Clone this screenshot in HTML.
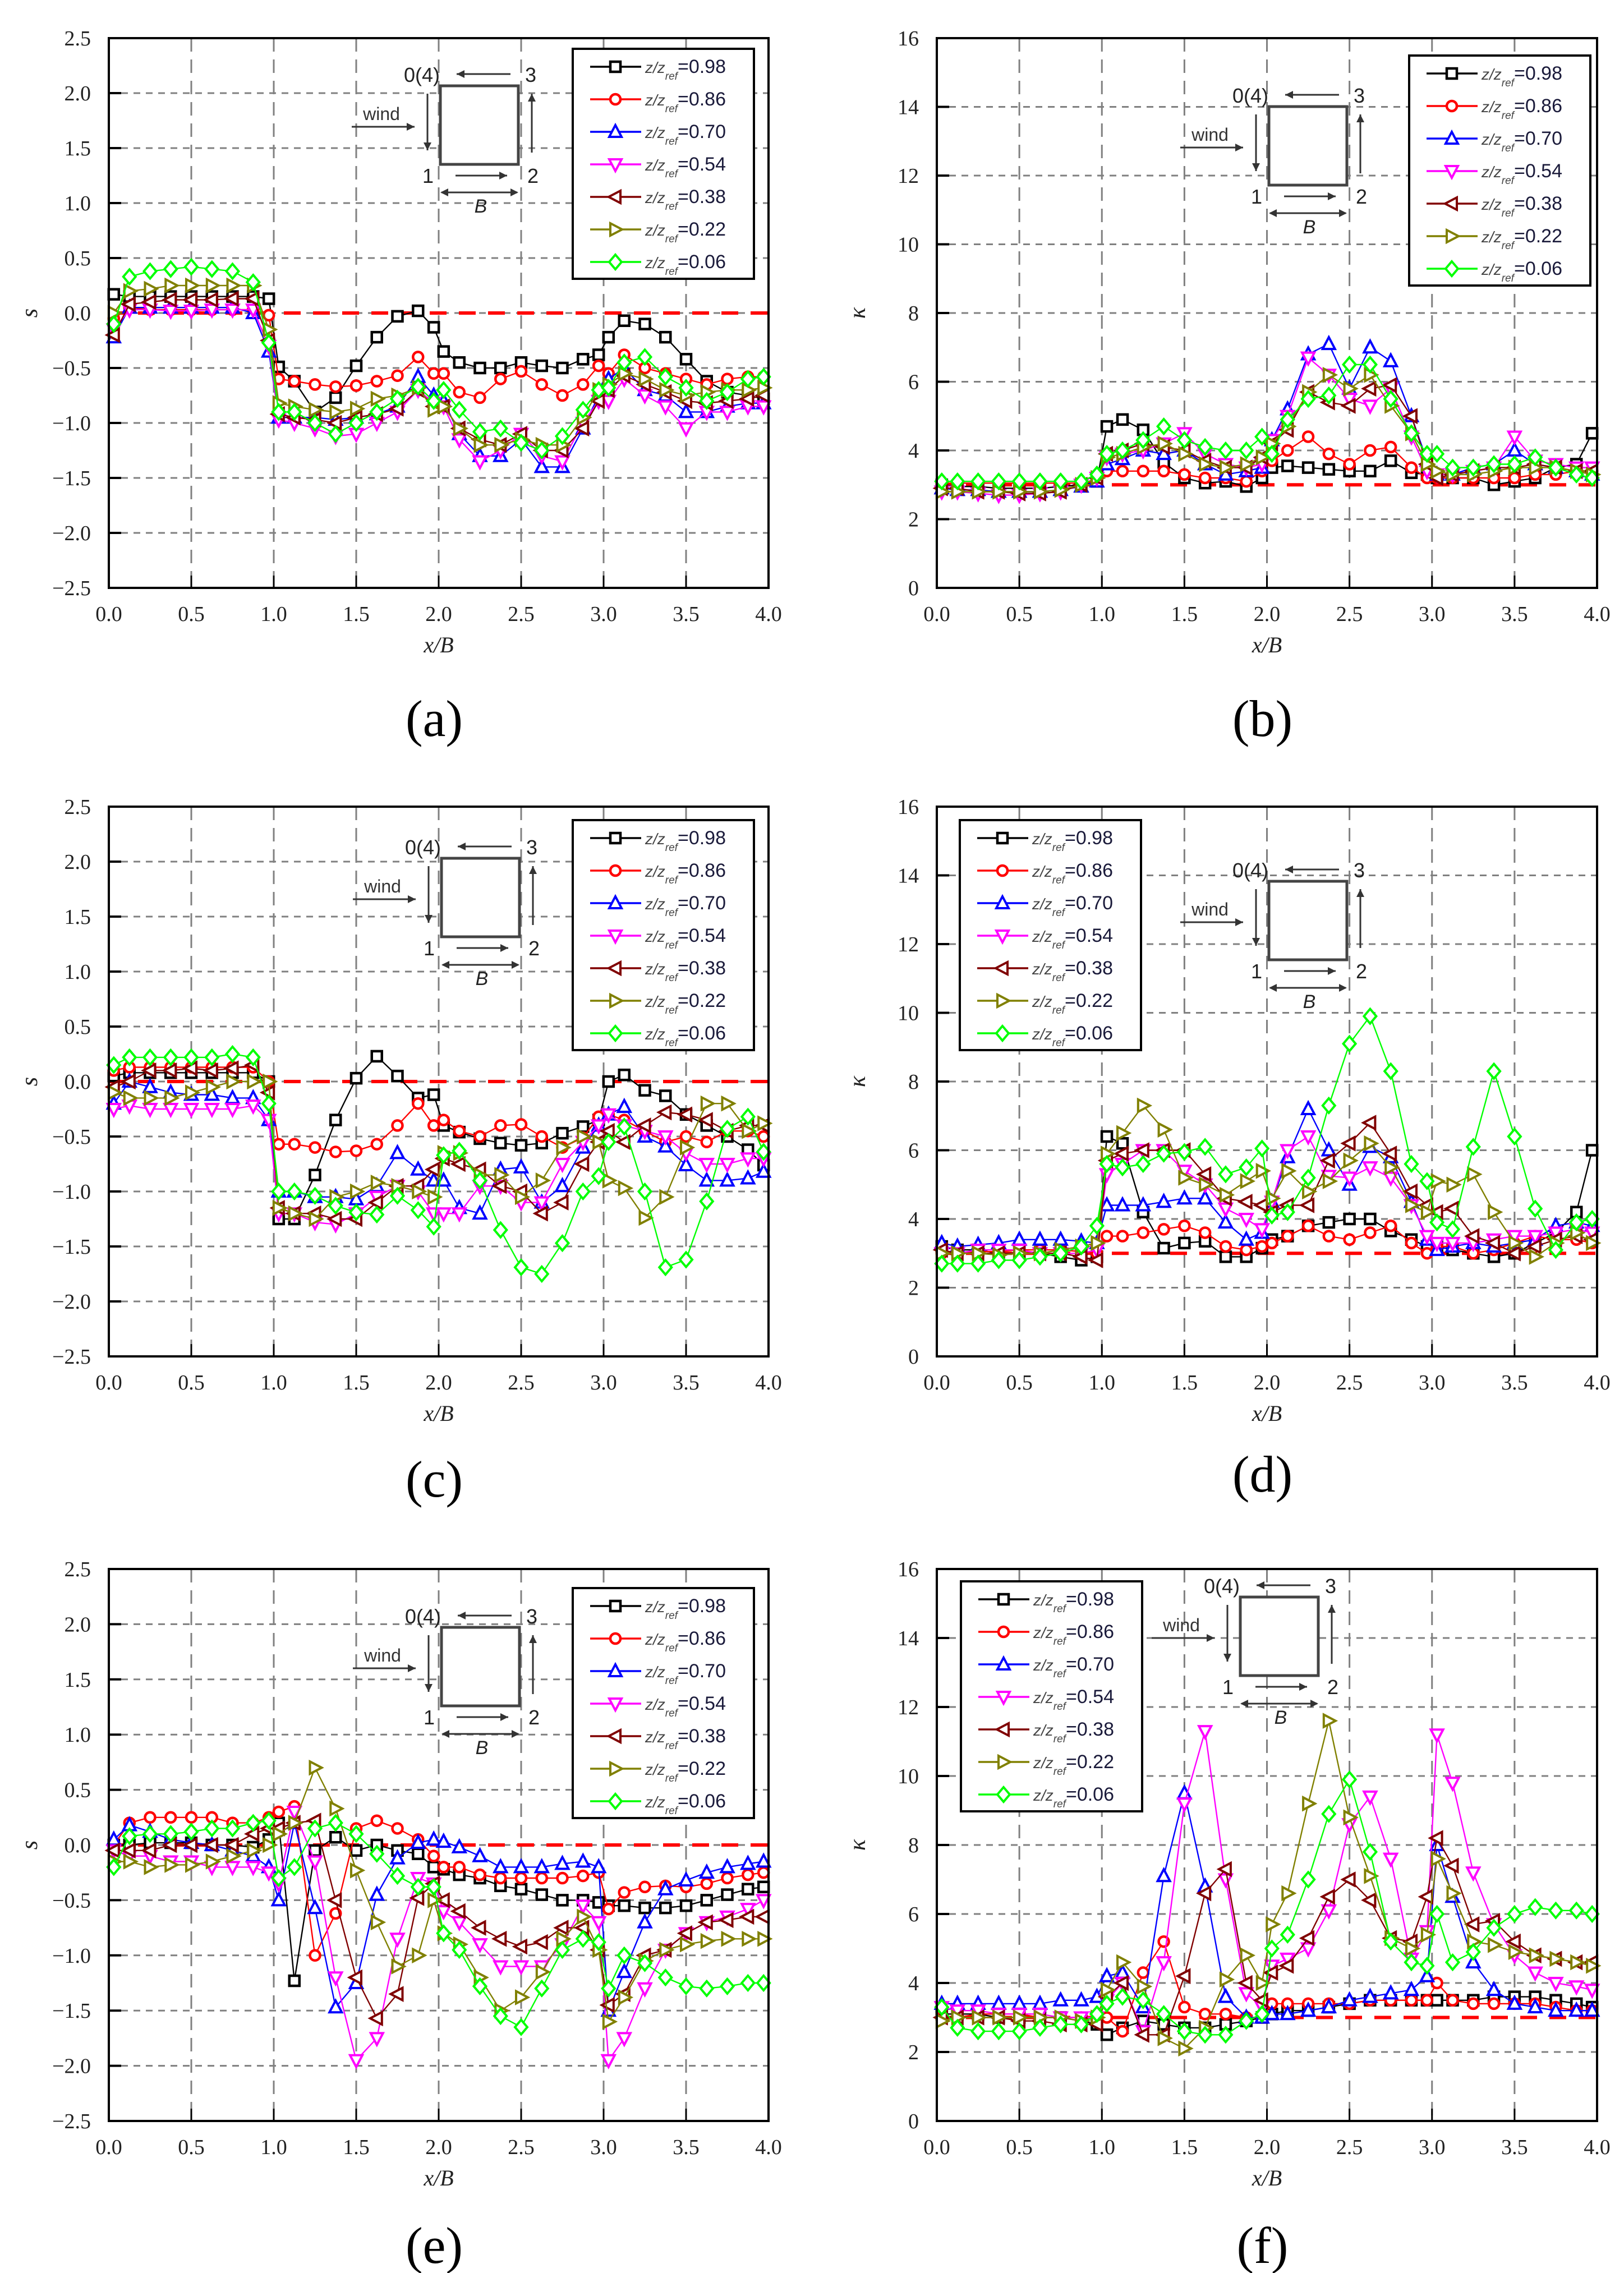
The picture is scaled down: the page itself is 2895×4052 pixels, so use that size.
<!DOCTYPE html>
<html><head><meta charset="utf-8"><title>s and kappa distributions</title>
<style>html,body{margin:0;padding:0;background:#fff}svg{display:block}</style></head>
<body>
<svg id="fig" xmlns="http://www.w3.org/2000/svg" width="2895" height="4052" viewBox="0 0 2895 4052">
<rect x="0" y="0" width="2895" height="4052" fill="#fff"/>
</svg>
<script>
// ---- shared x categories (x/B) ----
const xPos = [0.03,0.125,0.25,0.375,0.5,0.625,0.75,0.875,0.97, 1.03,1.125,1.25,1.375,1.5,1.625,1.75,1.875,1.97, 2.03,2.125,2.25,2.375,2.5,2.625,2.75,2.875,2.97, 3.03,3.125,3.25,3.375,3.5,3.625,3.75,3.875,3.97];
const seriesLabels = ["0.98","0.86","0.70","0.54","0.38","0.22","0.06"];
const sTicks = [2.5,2.0,1.5,1.0,0.5,0.0,-0.5,-1.0,-1.5,-2.0,-2.5];
const kTicks = [0,2,4,6,8,10,12,14,16];
const xTicks = [0.0,0.5,1.0,1.5,2.0,2.5,3.0,3.5,4.0];

// ---- panel (a) s ----
const a098 = [0.17,0.15,0.15,0.15,0.15,0.15,0.15,0.15,0.13, -0.49,-0.62,-0.9,-0.77,-0.48,-0.22,-0.03,0.02,-0.13, -0.35,-0.45,-0.5,-0.5,-0.45,-0.48,-0.5,-0.42,-0.38, -0.22,-0.07,-0.1,-0.22,-0.42,-0.62,-0.72,-0.75,-0.78];
const a086 = [-0.05,0.05,0.03,0.03,0.03,0.03,0.03,0.03,-0.02, -0.6,-0.62,-0.65,-0.67,-0.66,-0.62,-0.57,-0.4,-0.55, -0.55,-0.72,-0.77,-0.6,-0.53,-0.65,-0.75,-0.65,-0.48, -0.55,-0.38,-0.5,-0.55,-0.6,-0.65,-0.6,-0.58,-0.58];
const a070 = [-0.22,0.05,0.05,0.05,0.05,0.05,0.05,0.0,-0.35, -0.95,-0.95,-0.95,-0.97,-0.95,-0.92,-0.85,-0.58,-0.75, -0.8,-1.1,-1.3,-1.3,-1.15,-1.4,-1.4,-1.05,-0.75, -0.6,-0.5,-0.7,-0.75,-0.9,-0.9,-0.85,-0.82,-0.82];
const a054 = [-0.15,0.03,0.03,0.02,0.02,0.03,0.03,0.03,-0.3, -0.97,-1.0,-1.05,-1.12,-1.1,-1.0,-0.9,-0.7,-0.82, -0.85,-1.15,-1.35,-1.25,-1.1,-1.3,-1.35,-1.0,-0.8, -0.8,-0.6,-0.75,-0.85,-1.05,-0.9,-0.9,-0.85,-0.85];
const a038 = [-0.2,0.08,0.1,0.12,0.12,0.12,0.13,0.13,-0.25, -0.92,-0.95,-0.97,-1.0,-0.95,-0.92,-0.87,-0.7,-0.85, -0.85,-1.05,-1.15,-1.2,-1.1,-1.25,-1.25,-1.05,-0.8, -0.7,-0.57,-0.65,-0.72,-0.8,-0.82,-0.8,-0.78,-0.75];
const a022 = [0.0,0.2,0.22,0.25,0.25,0.25,0.25,0.25,-0.15, -0.82,-0.85,-0.88,-0.9,-0.87,-0.78,-0.75,-0.68,-0.88, -0.85,-1.05,-1.2,-1.2,-1.15,-1.2,-1.2,-0.95,-0.7, -0.65,-0.55,-0.6,-0.7,-0.75,-0.72,-0.7,-0.7,-0.68];
const a006 = [-0.1,0.33,0.38,0.4,0.42,0.4,0.38,0.28,-0.27, -0.9,-0.9,-1.0,-1.1,-1.0,-0.9,-0.78,-0.67,-0.8, -0.7,-0.88,-1.08,-1.05,-1.18,-1.25,-1.12,-0.88,-0.7, -0.68,-0.45,-0.4,-0.58,-0.68,-0.8,-0.72,-0.6,-0.58];
// ---- panel (b) kappa ----
const b098 = [3.0,2.95,2.95,2.9,2.9,2.9,2.95,3.0,3.1, 4.7,4.9,4.6,3.65,3.2,3.05,3.1,2.95,3.2, 3.5,3.55,3.5,3.45,3.4,3.4,3.7,3.35,3.3, 3.2,3.2,3.2,3.0,3.1,3.2,3.5,3.6,4.5];
const b086 = [3.05,3.05,3.05,3.05,3.05,3.05,3.05,3.05,3.1, 3.4,3.4,3.4,3.4,3.3,3.2,3.2,3.1,3.4, 3.7,4.0,4.4,3.9,3.6,4.0,4.1,3.5,3.2, 3.2,3.2,3.2,3.2,3.2,3.3,3.3,3.4,3.4];
const b070 = [2.9,2.85,2.85,2.8,2.8,2.8,2.85,2.95,3.1, 3.6,3.75,4.0,3.9,4.0,3.6,3.3,3.4,3.5, 4.3,5.2,6.8,7.1,5.8,7.0,6.6,5.0,3.7, 3.3,3.3,3.5,3.6,4.0,3.6,3.5,3.4,3.3];
const b054 = [2.8,2.8,2.75,2.7,2.7,2.75,2.8,3.0,3.2, 3.8,3.9,4.0,4.2,4.5,3.9,3.6,3.5,3.6, 4.3,5.0,6.7,6.2,5.5,5.3,5.8,4.4,3.4, 3.3,3.3,3.4,3.5,4.4,3.7,3.6,3.5,3.5];
const b038 = [2.9,2.9,2.8,2.8,2.75,2.75,2.8,3.0,3.2, 3.9,4.0,4.2,4.1,4.0,3.7,3.5,3.5,3.8, 4.2,4.6,5.7,5.4,5.3,5.8,5.9,5.0,3.6, 3.2,3.3,3.4,3.5,3.5,3.6,3.5,3.4,3.4];
const b022 = [2.8,2.8,2.8,2.8,2.8,2.8,2.85,3.0,3.2, 3.8,3.9,4.1,4.2,3.9,3.6,3.5,3.6,3.8, 4.2,4.7,5.7,6.2,5.8,6.2,5.3,4.5,3.6, 3.4,3.3,3.3,3.4,3.5,3.5,3.5,3.4,3.3];
const b006 = [3.1,3.1,3.1,3.1,3.1,3.1,3.1,3.1,3.3, 3.9,4.0,4.3,4.7,4.3,4.1,4.0,4.0,4.4, 3.9,4.9,5.5,5.6,6.5,6.5,5.5,4.5,3.9, 3.9,3.5,3.5,3.6,3.6,3.8,3.5,3.3,3.2];
// ---- panel (c) s ----
const c098 = [0.05,0.08,0.08,0.08,0.08,0.08,0.08,0.08,0.0, -1.25,-1.25,-0.85,-0.35,0.03,0.23,0.05,-0.15,-0.12, -0.4,-0.46,-0.52,-0.56,-0.58,-0.56,-0.47,-0.41,-0.35, 0.0,0.06,-0.08,-0.13,-0.3,-0.4,-0.5,-0.62,-0.76];
const c086 = [0.1,0.13,0.13,0.13,0.13,0.13,0.13,0.13,0.0, -0.57,-0.57,-0.6,-0.64,-0.63,-0.57,-0.4,-0.2,-0.4, -0.35,-0.45,-0.5,-0.4,-0.39,-0.5,-0.6,-0.51,-0.32, -0.3,-0.35,-0.45,-0.55,-0.5,-0.55,-0.45,-0.45,-0.5];
const c070 = [-0.2,0.0,-0.05,-0.1,-0.12,-0.12,-0.15,-0.15,-0.35, -1.0,-1.0,-1.05,-1.05,-1.07,-0.95,-0.65,-0.8,-0.9, -0.9,-1.15,-1.2,-0.8,-0.78,-1.1,-0.95,-0.6,-0.4, -0.3,-0.23,-0.5,-0.59,-0.76,-0.9,-0.9,-0.88,-0.82];
const c054 = [-0.25,-0.22,-0.25,-0.25,-0.25,-0.25,-0.25,-0.22,-0.35, -1.2,-1.2,-1.28,-1.3,-1.2,-1.05,-0.95,-1.0,-1.2, -1.2,-1.2,-0.95,-0.95,-1.1,-1.1,-0.75,-0.55,-0.4, -0.3,-0.4,-0.45,-0.5,-0.65,-0.75,-0.75,-0.7,-0.7];
const c038 = [-0.05,0.0,0.1,0.1,0.12,0.1,0.12,0.15,-0.1, -1.15,-1.2,-1.2,-1.25,-1.25,-1.1,-0.95,-0.95,-0.8, -0.7,-0.75,-0.8,-0.95,-1.0,-1.2,-1.1,-0.75,-0.55, -0.45,-0.55,-0.4,-0.28,-0.3,-0.35,-0.45,-0.4,-0.4];
const c022 = [-0.1,-0.15,-0.15,-0.15,-0.1,-0.05,0.0,0.0,0.0, -1.15,-1.2,-1.25,-1.05,-1.0,-0.92,-0.95,-1.0,-1.05, -0.65,-0.65,-0.85,-0.85,-1.05,-0.9,-0.6,-0.5,-0.55, -0.9,-0.97,-1.24,-1.05,-0.6,-0.2,-0.2,-0.45,-0.38];
const c006 = [0.15,0.22,0.22,0.22,0.22,0.22,0.25,0.22,-0.2, -1.0,-1.0,-1.04,-1.13,-1.19,-1.21,-1.04,-1.17,-1.32, -0.67,-0.63,-0.9,-1.35,-1.69,-1.75,-1.47,-1.0,-0.86, -0.55,-0.41,-1.0,-1.69,-1.62,-1.09,-0.43,-0.32,-0.64];
// ---- panel (d) kappa ----
const d098 = [3.2,3.1,3.1,3.0,3.0,3.0,2.9,2.8,2.9, 6.4,6.2,4.2,3.15,3.3,3.35,2.9,2.9,3.15, 3.4,3.5,3.8,3.9,4.0,4.0,3.65,3.4,3.2, 3.2,3.1,3.0,2.9,3.0,3.3,3.6,4.2,6.0];
const d086 = [3.0,3.0,3.05,3.05,3.1,3.1,3.1,3.05,3.0, 3.5,3.5,3.6,3.7,3.8,3.6,3.2,3.1,3.2, 3.3,3.5,3.8,3.5,3.4,3.6,3.8,3.3,3.0, 3.2,3.2,3.0,3.1,3.3,3.5,3.4,3.4,3.3];
const d070 = [3.3,3.2,3.25,3.3,3.4,3.4,3.4,3.35,3.3, 4.4,4.4,4.4,4.5,4.6,4.6,3.9,3.4,3.6, 4.5,5.8,7.2,6.0,5.0,6.1,5.8,4.5,3.4, 3.1,3.2,3.3,3.2,3.3,3.4,3.8,3.9,3.8];
const d054 = [3.0,3.0,3.1,3.1,3.1,3.0,3.0,3.0,3.1, 5.3,5.6,6.0,6.0,5.4,5.0,4.3,4.0,3.7, 4.5,6.0,6.4,5.25,5.2,5.5,5.2,4.4,3.5, 3.3,3.3,3.3,3.4,3.5,3.5,3.6,3.7,3.6];
const d038 = [3.1,3.0,3.0,3.0,3.0,3.0,3.0,2.9,2.8, 5.7,5.9,6.0,6.0,6.0,5.3,4.6,4.5,4.4, 4.2,4.4,4.4,5.7,6.2,6.8,5.9,4.8,4.4, 4.2,4.3,3.5,3.3,3.0,3.2,3.4,3.5,3.4];
const d022 = [3.0,3.0,3.0,2.95,3.0,3.0,3.1,3.2,3.3, 5.9,6.5,7.3,6.6,5.2,5.0,4.7,5.1,5.4, 4.6,5.4,4.8,5.1,5.7,6.2,5.5,4.4,4.2, 5.1,5.0,5.3,4.2,3.3,2.9,3.3,3.6,3.3];
const d006 = [2.7,2.7,2.7,2.8,2.8,2.9,3.0,3.2,3.8, 5.6,5.5,5.6,5.9,5.95,6.1,5.3,5.5,6.05, 4.1,4.2,5.2,7.3,9.1,9.9,8.3,5.6,5.1, 3.9,3.7,6.1,8.3,6.4,4.3,3.1,3.9,4.0];
// ---- panel (e) s ----
const e098 = [0.0,0.0,0.02,0.02,0.02,0.0,0.0,-0.02,0.05, 0.2,-1.23,-0.05,0.07,-0.05,0.0,-0.05,-0.08,-0.2, -0.22,-0.27,-0.3,-0.37,-0.4,-0.45,-0.5,-0.5,-0.52, -0.55,-0.55,-0.57,-0.57,-0.55,-0.5,-0.45,-0.4,-0.38];
const e086 = [0.0,0.2,0.25,0.25,0.25,0.25,0.2,0.2,0.25, 0.3,0.35,-1.0,-0.62,0.15,0.22,0.15,0.05,-0.1, -0.2,-0.2,-0.27,-0.3,-0.3,-0.3,-0.3,-0.28,-0.25, -0.58,-0.43,-0.38,-0.37,-0.38,-0.35,-0.3,-0.27,-0.25];
const e070 = [0.05,0.18,0.12,0.05,0.02,0.0,-0.05,-0.1,-0.2, -0.5,0.2,-0.57,-1.47,-1.25,-0.45,-0.12,0.02,0.05, 0.03,-0.02,-0.1,-0.2,-0.2,-0.2,-0.17,-0.15,-0.2, -1.5,-1.15,-0.7,-0.4,-0.32,-0.25,-0.2,-0.17,-0.15];
const e054 = [-0.05,-0.1,-0.1,-0.15,-0.15,-0.2,-0.2,-0.2,-0.25, -0.35,0.3,-0.15,-1.2,-1.95,-1.75,-0.85,-0.3,-0.35, -0.6,-0.7,-0.9,-1.1,-1.1,-1.1,-0.9,-0.55,-0.7, -1.95,-1.75,-1.3,-0.95,-0.8,-0.7,-0.65,-0.58,-0.5];
const e038 = [-0.05,-0.05,-0.05,0.0,0.0,0.0,0.0,0.1,0.15, 0.15,0.2,0.22,-0.5,-1.2,-1.57,-1.35,-0.48,-0.35, -0.5,-0.6,-0.75,-0.85,-0.92,-0.88,-0.75,-0.75,-0.95, -1.45,-1.35,-1.0,-0.95,-0.8,-0.7,-0.68,-0.65,-0.65];
const e022 = [-0.15,-0.15,-0.2,-0.18,-0.18,-0.15,-0.1,-0.05,0.0, 0.1,0.2,0.7,0.33,-0.23,-0.7,-1.1,-1.0,-0.5, -0.8,-0.9,-1.2,-1.5,-1.38,-1.15,-0.85,-0.65,-0.95, -1.6,-1.38,-1.05,-0.95,-0.9,-0.87,-0.85,-0.85,-0.85];
const e006 = [-0.2,0.08,0.1,0.1,0.12,0.15,0.15,0.2,0.22, -0.3,-0.2,0.15,0.2,0.1,-0.08,-0.28,-0.38,-0.38, -0.8,-0.95,-1.28,-1.55,-1.65,-1.3,-0.95,-0.85,-0.88, -1.3,-1.0,-1.07,-1.2,-1.28,-1.3,-1.28,-1.25,-1.25];
// ---- panel (f) kappa ----
const f098 = [3.1,3.1,3.1,3.0,3.0,3.0,3.0,2.9,2.8, 2.5,2.7,2.9,2.8,2.7,2.7,2.8,2.9,3.0, 3.1,3.2,3.2,3.3,3.4,3.5,3.5,3.5,3.5, 3.5,3.5,3.5,3.6,3.6,3.6,3.5,3.4,3.3];
const f086 = [3.0,3.0,3.1,3.1,3.1,3.0,3.0,3.0,3.0, 3.0,2.6,4.3,5.2,3.3,3.1,3.1,3.0,3.0, 3.4,3.4,3.4,3.4,3.4,3.5,3.5,3.5,3.5, 4.0,3.5,3.4,3.4,3.4,3.4,3.3,3.2,3.2];
const f070 = [3.4,3.4,3.4,3.4,3.4,3.4,3.5,3.5,3.6, 4.2,4.3,3.3,7.1,9.5,6.8,3.6,3.0,3.0, 3.1,3.1,3.2,3.3,3.5,3.6,3.7,3.8,4.2, 8.0,6.5,4.6,3.8,3.4,3.3,3.2,3.2,3.2];
const f054 = [3.3,3.2,3.2,3.1,3.1,3.1,3.0,3.0,3.0, 3.5,4.0,2.6,4.6,9.2,11.3,7.0,3.7,3.3, 4.5,4.7,5.0,6.1,8.6,9.4,7.6,4.7,5.5, 11.2,9.8,7.2,5.7,4.8,4.3,4.0,3.9,3.8];
const f038 = [3.0,3.0,3.0,3.0,2.9,2.9,2.8,2.8,2.8, 3.6,4.0,2.5,2.5,4.2,6.6,7.3,4.0,3.5, 4.3,4.5,5.3,6.5,7.0,6.4,5.3,5.2,6.5, 8.2,7.4,5.7,5.8,5.2,4.8,4.7,4.6,4.6];
const f022 = [2.9,3.0,3.0,3.0,3.0,3.0,3.0,2.9,3.0, 3.8,4.6,3.9,2.4,2.1,2.7,4.1,4.8,4.0, 5.7,6.6,9.2,11.6,8.8,7.1,5.3,5.0,5.4, 7.6,6.6,5.2,5.1,4.9,4.8,4.7,4.6,4.5];
const f006 = [3.3,2.7,2.6,2.6,2.6,2.7,2.8,2.8,3.1, 3.4,3.6,3.5,3.1,2.6,2.5,2.5,2.9,3.1, 5.0,5.4,7.0,8.9,9.9,7.8,5.2,4.6,4.5, 6.0,4.6,4.9,5.6,6.0,6.2,6.1,6.1,6.0];

const NS = "http://www.w3.org/2000/svg";
const svg = document.getElementById('fig');
const COLORS = ["#000000","#ff0000","#0000ff","#ff00ff","#800000","#808000","#00ff00"];
const SHAPES = ["square","circle","up","down","left","right","diamond"];

function mk(tag, attrs, parent) {
  const el = document.createElementNS(NS, tag);
  for (const k in attrs) el.setAttribute(k, attrs[k]);
  (parent || svg).appendChild(el);
  return el;
}

function markerPts(shape, cx, cy) {
  const r = 11;
  if (shape === "up") return [[cx,cy-r-1],[cx-r,cy+r-2],[cx+r,cy+r-2]];
  if (shape === "down") return [[cx,cy+r+1],[cx-r,cy-r+2],[cx+r,cy-r+2]];
  if (shape === "left") return [[cx-r-1,cy],[cx+r-2,cy-r],[cx+r-2,cy+r]];
  if (shape === "right") return [[cx+r+1,cy],[cx-r+2,cy-r],[cx-r+2,cy+r]];
  if (shape === "diamond") return [[cx,cy-r-2],[cx+r,cy],[cx,cy+r+2],[cx-r,cy]];
  return null;
}

function drawMarker(g, shape, cx, cy, color) {
  let el;
  if (shape === "square") {
    el = mk('rect', {x: cx-9, y: cy-9, width: 18, height: 18, fill: '#fff', stroke: color, 'stroke-width': 4.5}, g);
  } else if (shape === "circle") {
    el = mk('circle', {cx: cx, cy: cy, r: 9, fill: '#fff', stroke: color, 'stroke-width': 4.5}, g);
  } else {
    const p = markerPts(shape, cx, cy).map(q => q[0].toFixed(1)+','+q[1].toFixed(1)).join(' ');
    el = mk('polygon', {points: p, fill: '#fff', stroke: color, 'stroke-width': 4, 'stroke-linejoin': 'miter'}, g);
  }
  
  
}

function drawInset(g, sx, sy) {
  const c = '#333';
  const sq = mk('rect', {x: sx, y: sy, width: 139, height: 140, fill: '#fff', stroke: '#444', 'stroke-width': 5}, g);
  
  
  const arrows = [
    [sx+125, sy-21, sx+29, sy-21],
    [sx-23, sy+14, sx-23, sy+115],
    [sx+163, sy+119, sx+163, sy+14],
    [sx+27, sy+160, sx+119, sy+160],
    [sx-158, sy+73, sx-46, sy+73]
  ];
  arrows.forEach(a => {
    const ln = mk('line', {x1: a[0], y1: a[1], x2: a[2], y2: a[3], stroke: c, 'stroke-width': 3}, g);
    
    
    const ang = Math.atan2(a[3]-a[1], a[2]-a[0]);
    const L = 14, W = 7;
    const bx = a[2]-L*Math.cos(ang), by = a[3]-L*Math.sin(ang);
    const hd = mk('polygon', {points: `${a[2]},${a[3]} ${bx-W*Math.sin(ang)},${by+W*Math.cos(ang)} ${bx+W*Math.sin(ang)},${by-W*Math.cos(ang)}`, fill: c}, g);
    
    
  });
  const bl = mk('line', {x1: sx+2, y1: sy+190, x2: sx+137, y2: sy+190, stroke: c, 'stroke-width': 3}, g);
  
  
  const h1 = mk('polygon', {points: `${sx},${sy+190} ${sx+14},${sy+183} ${sx+14},${sy+197}`, fill: c}, g);
  
  
  const h2 = mk('polygon', {points: `${sx+139},${sy+190} ${sx+125},${sy+183} ${sx+125},${sy+197}`, fill: c}, g);
  
  
  const labels = [
    ['0(4)', sx-33, sy-20, 'corner-label-0'],
    ['3', sx+161, sy-20, 'corner-label-3'],
    ['1', sx-22, sy+160, 'corner-label-1'],
    ['2', sx+165, sy+160, 'corner-label-2']
  ];
  labels.forEach(l => {
    const t = mk('text', {x: l[1], y: l[2]+13, 'text-anchor': 'middle', 'font-family': 'Liberation Sans, sans-serif', 'font-size': 36, fill: '#222'}, g);
    t.textContent = l[0];
    
    
  });
  const w = mk('text', {x: sx-105, y: sy+61, 'text-anchor': 'middle', 'font-family': 'Liberation Sans, sans-serif', 'font-size': 32, fill: '#333'}, g);
  w.textContent = 'wind';
  
  
  const b = mk('text', {x: sx+72, y: sy+226, 'text-anchor': 'middle', 'font-family': 'Liberation Sans, sans-serif', 'font-style': 'italic', 'font-size': 34, fill: '#222'}, g);
  b.textContent = 'B';
  
  
}

function drawLegend(g, lx, ly) {
  const box = mk('rect', {x: lx, y: ly, width: 323, height: 410, fill: '#fff', stroke: '#000', 'stroke-width': 4}, g);
  
  
  for (let i = 0; i < 7; i++) {
    const cy = ly + 32 + 58*i;
    const ln = mk('line', {x1: lx+31, y1: cy, x2: lx+122, y2: cy, stroke: COLORS[i], 'stroke-width': 3.5}, g);
    
    
    drawMarker(g, SHAPES[i], lx+76, cy, COLORS[i]);
    const t = mk('text', {x: lx+129, y: cy+11, 'font-family': 'Liberation Sans, sans-serif', 'font-size': 28, fill: '#444'}, g);
    
    
    const t1 = mk('tspan', {'font-style': 'italic'}, t);
    t1.textContent = 'z/z';
    const t2 = mk('tspan', {'font-size': 19, dy: 12, 'font-style': 'italic'}, t);
    t2.textContent = 'ref';
    const t3 = mk('tspan', {'font-size': 34, dy: -12, fill: '#1a1a3a'}, t);
    t3.textContent = '=' + seriesLabels[i];
  }
}

function panel(cfg) {
  const g = mk('g', {});
  
  
  const X0 = cfg.x0, X1 = cfg.x1, Y0 = cfg.y0, Y1 = cfg.y1;
  const xs = v => X0 + (v - 0) / 4 * (X1 - X0);
  const ys = v => Y1 - (v - cfg.ymin) / (cfg.ymax - cfg.ymin) * (Y1 - Y0);
  xTicks.forEach(v => {
    if (v > 0 && v < 4) {
      const l = mk('line', {x1: xs(v), y1: Y0, x2: xs(v), y2: Y1, stroke: '#808080', 'stroke-width': 3, 'stroke-dasharray': '24 14'}, g);
      
      
    }
  });
  cfg.yticks.forEach(v => {
    if (v > cfg.ymin && v < cfg.ymax) {
      const l = mk('line', {x1: X0, y1: ys(v), x2: X1, y2: ys(v), stroke: '#808080', 'stroke-width': 3, 'stroke-dasharray': '12 10'}, g);
      
      
      const tk = mk('line', {x1: X0, y1: ys(v), x2: X0+22, y2: ys(v), stroke: '#000', 'stroke-width': 4}, g);
      
      
    }
  });
  xTicks.forEach(v => {
    if (v > 0 && v < 4) {
      const tk = mk('line', {x1: xs(v), y1: Y1, x2: xs(v), y2: Y1-22, stroke: '#000', 'stroke-width': 3}, g);
      
      
    }
  });
  const ref = mk('line', {x1: X0, y1: ys(cfg.ref), x2: X1, y2: ys(cfg.ref), stroke: '#ff0000', 'stroke-width': 6, 'stroke-dasharray': '30 22'}, g);
  
  
  drawInset(g, cfg.inset[0], cfg.inset[1]);
  cfg.series.forEach((arr, si) => {
    const d = arr.map((v, i) => (i ? 'L' : 'M') + xs(xPos[i]).toFixed(1) + ',' + ys(v).toFixed(1)).join(' ');
    const p = mk('path', {d: d, fill: 'none', stroke: COLORS[si], 'stroke-width': 2.4}, g);
    
    
    arr.forEach((v, i) => drawMarker(g, SHAPES[si], xs(xPos[i]), ys(v), COLORS[si]));
  });
  drawLegend(g, cfg.legend[0], cfg.legend[1]);
  const fr = mk('rect', {x: X0, y: Y0, width: X1-X0, height: Y1-Y0, fill: 'none', stroke: '#000', 'stroke-width': 4}, g);
  
  
  cfg.yticks.forEach(v => {
    const t = mk('text', {x: X0-32, y: ys(v)+13, 'text-anchor': 'end', 'font-family': 'Liberation Serif, serif', 'font-size': 38, fill: '#222'}, g);
    t.textContent = cfg.kappa ? String(v) : (v < 0 ? '\u2212' + Math.abs(v).toFixed(1) : v.toFixed(1));
    
    
  });
  xTicks.forEach(v => {
    const t = mk('text', {x: xs(v), y: Y1+59, 'text-anchor': 'middle', 'font-family': 'Liberation Serif, serif', 'font-size': 38, fill: '#222'}, g);
    t.textContent = v.toFixed(1);
    
    
  });
  const xt = mk('text', {x: (X0+X1)/2, y: Y1+115, 'text-anchor': 'middle', 'font-family': 'Liberation Serif, serif', 'font-style': 'italic', 'font-size': 40, fill: '#222'}, g);
  xt.textContent = 'x/B';
  
  
  const yx = X0 - 128, yy = (Y0+Y1)/2;
  const yt = mk('text', {x: yx, y: yy, 'text-anchor': 'middle', 'font-family': 'Liberation Serif, serif', 'font-style': 'italic', 'font-size': 42, fill: '#222', transform: `rotate(-90 ${yx} ${yy})`}, g);
  yt.textContent = cfg.kappa ? '\u03ba' : 's';
  
  
  const pl = mk('text', {x: (X0+X1)/2 - 8, y: cfg.labelY + 32, 'text-anchor': 'middle', 'font-family': 'Liberation Serif, serif', 'font-size': 92, fill: '#000'}, g);
  pl.textContent = cfg.label;
  
  
}

const L = [194, 1370], R = [1670, 2847];
const rows = [[68, 1048], [1438, 2418], [2797, 3781]];
panel({name: 'panel-a', x0: L[0], x1: L[1], y0: rows[0][0], y1: rows[0][1], ymin: -2.5, ymax: 2.5, yticks: sTicks, ref: 0, kappa: false,
  series: [a098,a086,a070,a054,a038,a022,a006], legend: [1021, 87], inset: [785, 153], label: '(a)', labelY: 1280});
panel({name: 'panel-b', x0: R[0], x1: R[1], y0: rows[0][0], y1: rows[0][1], ymin: 0, ymax: 16, yticks: kTicks, ref: 3, kappa: true,
  series: [b098,b086,b070,b054,b038,b022,b006], legend: [2512, 99], inset: [2262, 190], label: '(b)', labelY: 1280});
panel({name: 'panel-c', x0: L[0], x1: L[1], y0: rows[1][0], y1: rows[1][1], ymin: -2.5, ymax: 2.5, yticks: sTicks, ref: 0, kappa: false,
  series: [c098,c086,c070,c054,c038,c022,c006], legend: [1021, 1462], inset: [787, 1530], label: '(c)', labelY: 2636});
panel({name: 'panel-d', x0: R[0], x1: R[1], y0: rows[1][0], y1: rows[1][1], ymin: 0, ymax: 16, yticks: kTicks, ref: 3, kappa: true,
  series: [d098,d086,d070,d054,d038,d022,d006], legend: [1711, 1462], inset: [2262, 1571], label: '(d)', labelY: 2627});
panel({name: 'panel-e', x0: L[0], x1: L[1], y0: rows[2][0], y1: rows[2][1], ymin: -2.5, ymax: 2.5, yticks: sTicks, ref: 0, kappa: false,
  series: [e098,e086,e070,e054,e038,e022,e006], legend: [1021, 2831], inset: [787, 2901], label: '(e)', labelY: 4002});
panel({name: 'panel-f', x0: R[0], x1: R[1], y0: rows[2][0], y1: rows[2][1], ymin: 0, ymax: 16, yticks: kTicks, ref: 3, kappa: true,
  series: [f098,f086,f070,f054,f038,f022,f006], legend: [1713, 2819], inset: [2211, 2847], label: '(f)', labelY: 4002});
</script>
</body></html>
